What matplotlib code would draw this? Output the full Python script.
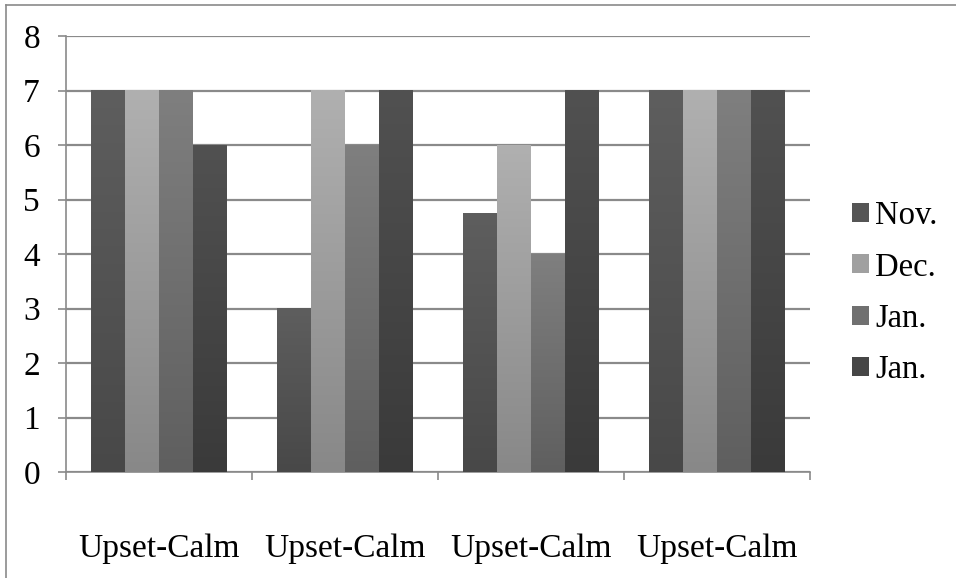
import matplotlib
matplotlib.use("Agg")
import matplotlib.pyplot as plt
import numpy as np
from matplotlib.colors import LinearSegmentedColormap
from matplotlib.patches import Patch
from matplotlib.lines import Line2D

categories = ["Upset-Calm", "Upset-Calm", "Upset-Calm", "Upset-Calm"]
series_names = ["Nov.", "Dec.", "Jan.", "Jan."]
nov = [7, 3, 4.75, 7]
dec = [7, 7, 6, 7]
jan1 = [7, 6, 4, 7]
jan2 = [6, 7, 7, 7]
series_values = [nov, dec, jan1, jan2]
top_colors = ["#5e5e5e", "#b0b0b0", "#7f7f7f", "#515151"]
bottom_colors = ["#484848", "#888888", "#5f5f5f", "#3a3a3a"]
mid_colors = ["#555555", "#a0a0a0", "#707070", "#464646"]
y_ticks = [0, 1, 2, 3, 4, 5, 6, 7, 8]

plt.rcParams['font.family'] = ['Liberation Serif', 'DejaVu Serif']

fig = plt.figure(figsize=(9.56, 5.78), dpi=100)
ax = fig.add_axes([66/956, 1-472/578, (810-66)/956, (472-36)/578])

grid_c = "#8a8a8a"
n = len(series_values)
x = np.arange(len(categories))
w = 1/5.5
grad = np.linspace(0, 1, 256).reshape(-1, 1)
for i, vals in enumerate(series_values):
    cmap = LinearSegmentedColormap.from_list(f"g{i}", [bottom_colors[i], top_colors[i]])
    offs = (i - (n - 1) / 2) * w
    bars = ax.bar(x + offs, vals, width=w, color="none", edgecolor="none", zorder=3)
    for b in bars:
        x0, y0 = b.get_x(), b.get_y()
        ax.imshow(grad, extent=[x0, x0 + b.get_width(), y0, y0 + b.get_height()],
                  origin="lower", aspect="auto", cmap=cmap, zorder=3,
                  interpolation="bilinear")

ax.set_xlim(-0.5, len(categories) - 0.5)
ax.set_ylim(0, 8)
ax.set_yticks(y_ticks)
ax.set_yticklabels([str(t) for t in y_ticks])
ax.yaxis.grid(True, color=grid_c, linewidth=1.6, zorder=1)
ax.set_axisbelow(True)

ax.set_xticks(x)
ax.set_xticklabels(categories)
ax.set_xticks(np.arange(-0.5, len(categories), 1.0), minor=True)
ax.tick_params(axis='x', which='major', length=0, pad=44, labelsize=24)
ax.tick_params(axis='x', which='minor', length=5.8, width=1.2, color=grid_c, direction='out')
ax.tick_params(axis='y', length=5.8, width=1.2, color=grid_c, direction='out', pad=13, labelsize=24)

for s in ['top', 'right']:
    ax.spines[s].set_visible(False)
for s in ['left', 'bottom']:
    ax.spines[s].set_color(grid_c)
    ax.spines[s].set_linewidth(1.2)

handles = [Patch(facecolor=mid_colors[i], edgecolor='none') for i in range(n)]
fig.legend(handles, series_names, loc='center left', bbox_to_anchor=(852/956, 1-293/578),
           frameon=False, fontsize=23.5, handlelength=0.52, handleheight=0.52,
           handletextpad=0.2, labelspacing=0.64, borderpad=0, borderaxespad=0)

# outer chart border (top and left visible)
fig.add_artist(Line2D([6/956, 1], [1-5/578, 1-5/578], color=grid_c, linewidth=1.2, transform=fig.transFigure))
fig.add_artist(Line2D([6/956, 6/956], [0, 1-5/578], color=grid_c, linewidth=1.2, transform=fig.transFigure))

fig.savefig("out.png", dpi=100)
